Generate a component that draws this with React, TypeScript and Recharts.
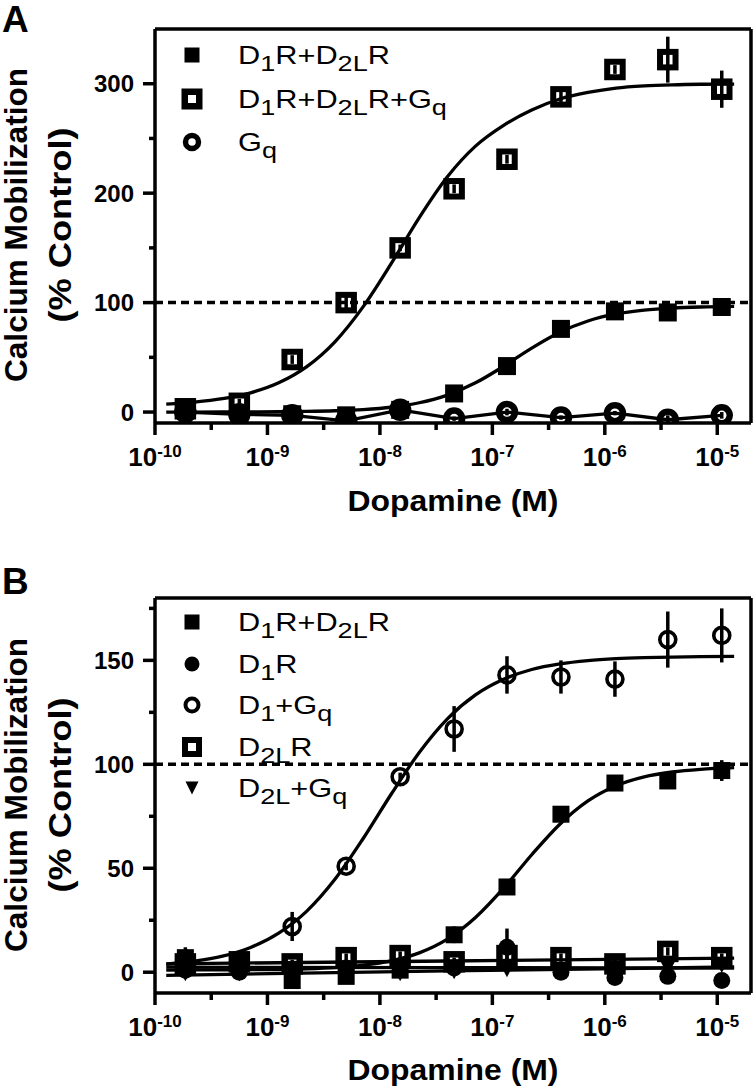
import React from "react";
import {
  ComposedChart,
  Scatter,
  Line,
  XAxis,
  YAxis,
  ReferenceLine,
  ErrorBar,
} from "recharts";

const FONT = "'Liberation Sans', Arial, Helvetica, sans-serif";

// log10 dopamine (M), 3-fold dilutions
const logDose = [-9.73, -9.25, -8.78, -8.3, -7.82, -7.34, -6.87, -6.39, -5.91, -5.44, -4.96];
// x positions used to trace the fitted curves
const fitDose = [-9.9, -9.65, -9.4, -9.15, -8.9, -8.65, -8.4, -8.15, -7.9, -7.65, -7.4, -7.15, -6.9, -6.65, -6.4, -6.15, -5.9, -5.65, -5.4, -5.15, -4.85];
const flatDose = [-9.9, -7.4, -4.85];

const xTicks = [-10, -9.5, -9, -8.5, -8, -7.5, -7, -6.5, -6, -5.5, -5];
const aYTicks = [0, 50, 100, 150, 200, 250, 300];
const bYTicks = [0, 25, 50, 75, 100, 125, 150, 175];

// panel A
const aD1D2 = [3, -1, -2, -3, 2, 17, 42, 76, 92, 91, 96];
const aD1D2Err = [2, 2, 2, 2, 2, 3, 3, 3, 3, 3, 3];
const aD1D2Gq = [3, 8, 48, 100, 150, 204, 231, 288, 313, 322, 295];
const aD1D2GqErr = [3, 4, 4, 6, 3, 4, 4, 7, 4, 21, 17];
const aGq = [0, -2, -3, -8, 2, -6, 0, -5, -1, -7, -3];
const aGqErr = [2, 2, 2, 2, 2, 2, 3, 2, 2, 4, 3];
const aFitD1D2Gq = [7.3, 9.1, 12.2, 17.6, 26.7, 41.5, 64.2, 96.1, 135.6, 177.7, 215, 243, 262, 276, 286, 292, 296, 298, 299, 299.5, 299.7];
const aFitD1D2 = [0, 0, 0.1, 0.2, 0.3, 0.6, 1.2, 2.3, 4.4, 8.5, 15.5, 26.7, 41.8, 58.4, 72.9, 83.2, 89.6, 93.1, 95, 96, 96.6];

// panel B
const bD1D2 = [7, 3, -4, -2, 1, 18, 41, 76, 91, 92, 97];
const bD1D2Err = [5, 2, 2, 2, 2, 4, 2, 2, 2, 2, 5];
const bD1 = [1, 0, 1, 2, 3, 2, 12, 0, -2.5, -2, -4];
const bD1Err = [2, 2, 2, 2, 2, 2, 9, 2, 2, 2, 2];
const bD1Gq = [2, 3, 22, 51, 94, 117, 143, 142, 141, 160, 162];
const bD1GqErr = [1, 1, 7, 2, 2, 11, 9, 8, 8.5, 13.5, 13];
const bD2 = [4, 5, 4, 7, 8, 5, 8, 7, 4, 10, 7];
const bD2Err = [2, 2, 2, 2, 2, 2, 2, 2, 2, 2, 2];
const bD2Gq = [-1, -1, 0, 0, -1, 0, 1, 1, 2, 2, 3];
const bD2GqErr = [2, 2, 1, 1, 1, 1, 1, 1, 1, 1, 1];
const bFitD1Gq = [3.9, 5.3, 7.7, 11.9, 18.8, 29.4, 44.7, 64.2, 85.6, 105.7, 121.9, 133.4, 140.9, 145.6, 148.3, 149.9, 150.8, 151.3, 151.6, 151.8, 151.9];
const bFitD1D2 = [1, 1.1, 1.1, 1.2, 1.3, 1.6, 2.2, 3.4, 5.5, 9.3, 15.9, 26.3, 40.4, 56.5, 71.2, 82.4, 89.7, 94, 96.3, 97.6, 98.4];
const bFitD2 = [4, 5.4, 6.8];
const bFitD1 = [2.4, 2.2, 2];
const bFitD2Gq = [-1.5, 0.6, 2.5];

// legend labels, "_x" = subscript
const aLabels = ["D,_1,R+D,_2L,R", "D,_1,R+D,_2L,R+G,_q", "G,_q"];
const bLabels = ["D,_1,R+D,_2L,R", "D,_1,R", "D,_1,+G,_q", "D,_2L,R", "D,_2L,+G,_q"];

const pts = (xs: number[], ys: number[], errs?: number[]) =>
  xs.map((x, i) => ({ x, y: ys[i], err: errs ? errs[i] : 0 }));

// marker shapes
const filledSquare = (s: number) => (p: any) =>
  <rect x={p.cx - s / 2} y={p.cy - s / 2} width={s} height={s} fill="#000" />;
const openSquare = (s: number, w: number) => (p: any) =>
  <rect x={p.cx - s / 2} y={p.cy - s / 2} width={s} height={s} fill="none" stroke="#000" strokeWidth={w} />;
const openCircle = (r: number, w: number) => (p: any) =>
  <circle cx={p.cx} cy={p.cy} r={r} fill="none" stroke="#000" strokeWidth={w} />;
const filledCircle = (r: number) => (p: any) =>
  <circle cx={p.cx} cy={p.cy} r={r} fill="#000" />;
const triangleDown = (w: number, h: number) => (p: any) => (
  <polygon
    points={`${p.cx - w / 2},${p.cy - h / 2} ${p.cx + w / 2},${p.cy - h / 2} ${p.cx},${p.cy + h / 2}`}
    fill="#000"
  />
);

const XTick = ({ x, y, payload }: any) => {
  const v = payload.value;
  const major = Number.isInteger(v);
  return (
    <g>
      <line x1={x} y1={y} x2={x} y2={y + (major ? 12 : 7)} stroke="#000" strokeWidth={3.5} />
      {major && (
        <text x={x} y={y + 43} textAnchor="middle" fontFamily={FONT} fontWeight="bold" fontSize={26} fill="#000">
          10
          <tspan fontSize={17} dy={-9}>{String(v)}</tspan>
        </text>
      )}
    </g>
  );
};

const makeYTick = (step: number) => ({ x, y, payload }: any) => {
  const v = payload.value;
  const major = v % step === 0;
  return (
    <g>
      <line x1={x - (major ? 12 : 6)} y1={y} x2={x} y2={y} stroke="#000" strokeWidth={3.5} />
      {major && (
        <text x={x - 21} y={y} dy="0.36em" textAnchor="end" fontFamily={FONT} fontWeight="bold" fontSize={24} fill="#000">
          {v}
        </text>
      )}
    </g>
  );
};

const axisLine = { stroke: "#000", strokeWidth: 3.5 };
const errProps = { dataKey: "err", width: 0, strokeWidth: 3.5, stroke: "#000", direction: "y" as const };

const fit = (data: any[]) => (
  <Line
    data={data}
    dataKey="y"
    type="monotone"
    dot={false}
    activeDot={false}
    stroke="#000"
    strokeWidth={3.3}
    isAnimationActive={false}
    legendType="none"
  />
);

const LegendRow = ({ y, marker, label }: any) => {
  const parts = label.split(",");
  let low = false;
  return (
    <g>
      {marker({ cx: 192, cy: y - 9 })}
      <g transform={`translate(238, ${y}) scale(1.23, 1)`}>
        <text x={0} y={0} fontFamily={FONT} fontSize={25} fill="#000">
          {parts.map((p: string, i: number) => {
            const sub = p.startsWith("_");
            const dy = sub && !low ? 7 : !sub && low ? -7 : 0;
            low = sub;
            return (
              <tspan key={i} dy={dy} fontSize={sub ? 22 : 25}>
                {sub ? p.slice(1) : p}
              </tspan>
            );
          })}
        </text>
      </g>
    </g>
  );
};

const PanelTexts = ({ top, plotMid, letter, letterY, titleY }: any) => (
  <g>
    <text x={2} y={letterY} fontSize={37} fontWeight="bold">{letter}</text>
    <text transform={`translate(27,${plotMid}) rotate(-90)`} textAnchor="middle" fontSize={31} fontWeight="bold" textLength={314} lengthAdjust="spacingAndGlyphs">
      Calcium Mobilization
    </text>
    <text transform={`translate(71,${plotMid}) rotate(-90)`} textAnchor="middle" fontSize={31} fontWeight="bold" textLength={195} lengthAdjust="spacingAndGlyphs">
      (% Control)
    </text>
    <text x={453} y={titleY} textAnchor="middle" fontSize={30} fontWeight="bold" textLength={211} lengthAdjust="spacingAndGlyphs">
      Dopamine (M)
    </text>
  </g>
);

export default function App() {
  return (
    <div style={{ position: "absolute", left: 0, top: 0, width: 756, height: 1090, background: "#fff" }}>
      <div style={{ position: "absolute", left: 0, top: 0 }}>
        <ComposedChart width={756} height={540} margin={{ top: 29, right: 5, bottom: 37, left: 0 }}>
          <XAxis
            type="number"
            dataKey="x"
            domain={[-10, -4.7]}
            ticks={xTicks}
            interval={0}
            tick={XTick}
            tickLine={false}
            tickSize={0}
            tickMargin={0}
            axisLine={axisLine}
            height={80}
            allowDataOverflow
          />
          <YAxis
            type="number"
            dataKey="y"
            domain={[-10, 350]}
            ticks={aYTicks}
            interval={0}
            tick={makeYTick(100)}
            tickLine={false}
            tickSize={0}
            tickMargin={0}
            axisLine={axisLine}
            width={155}
            allowDataOverflow
          />
          <ReferenceLine y={350} stroke="#000" strokeWidth={3.5} />
          <ReferenceLine x={-4.7} stroke="#000" strokeWidth={3.5} />
          <ReferenceLine y={100} stroke="#000" strokeWidth={3.5} strokeDasharray="8 5" />
          {fit(pts(fitDose, aFitD1D2Gq))}
          {fit(pts(fitDose, aFitD1D2))}
          <Line
            data={pts(logDose, aGq)}
            dataKey="y"
            type="linear"
            dot={false}
            activeDot={false}
            stroke="#000"
            strokeWidth={3.3}
            isAnimationActive={false}
            legendType="none"
          />
          <Scatter name="D1R+D2LR" data={pts(logDose, aD1D2, aD1D2Err)} dataKey="y" shape={filledSquare(18)} isAnimationActive={false}>
            <ErrorBar {...errProps} />
          </Scatter>
          <Scatter name="D1R+D2LR+Gq" data={pts(logDose, aD1D2Gq, aD1D2GqErr)} dataKey="y" shape={openSquare(15.5, 6)} isAnimationActive={false}>
            <ErrorBar {...errProps} />
          </Scatter>
          <Scatter name="Gq" data={pts(logDose, aGq, aGqErr)} dataKey="y" shape={openCircle(8, 6.5)} isAnimationActive={false}>
            <ErrorBar {...errProps} />
          </Scatter>
        </ComposedChart>
      </div>

      <div style={{ position: "absolute", left: 0, top: 540 }}>
        <ComposedChart width={756} height={550} margin={{ top: 58, right: 5, bottom: 17, left: 0 }}>
          <XAxis
            type="number"
            dataKey="x"
            domain={[-10, -4.7]}
            ticks={xTicks}
            interval={0}
            tick={XTick}
            tickLine={false}
            tickSize={0}
            tickMargin={0}
            axisLine={axisLine}
            height={80}
            allowDataOverflow
          />
          <YAxis
            type="number"
            dataKey="y"
            domain={[-10, 180]}
            ticks={bYTicks}
            interval={0}
            tick={makeYTick(50)}
            tickLine={false}
            tickSize={0}
            tickMargin={0}
            axisLine={axisLine}
            width={155}
            allowDataOverflow
          />
          <ReferenceLine y={180} stroke="#000" strokeWidth={3.5} />
          <ReferenceLine x={-4.7} stroke="#000" strokeWidth={3.5} />
          <ReferenceLine y={100} stroke="#000" strokeWidth={3.5} strokeDasharray="8 5" />
          {fit(pts(fitDose, bFitD1Gq))}
          {fit(pts(fitDose, bFitD1D2))}
          {fit(pts(flatDose, bFitD2))}
          {fit(pts(flatDose, bFitD1))}
          {fit(pts(flatDose, bFitD2Gq))}
          <Scatter name="D1R+D2LR" data={pts(logDose, bD1D2, bD1D2Err)} dataKey="y" shape={filledSquare(17)} isAnimationActive={false}>
            <ErrorBar {...errProps} />
          </Scatter>
          <Scatter name="D1R" data={pts(logDose, bD1, bD1Err)} dataKey="y" shape={filledCircle(8.5)} isAnimationActive={false}>
            <ErrorBar {...errProps} />
          </Scatter>
          <Scatter name="D1+Gq" data={pts(logDose, bD1Gq, bD1GqErr)} dataKey="y" shape={openCircle(8, 3.6)} isAnimationActive={false}>
            <ErrorBar {...errProps} />
          </Scatter>
          <Scatter name="D2LR" data={pts(logDose, bD2, bD2Err)} dataKey="y" shape={openSquare(15, 6.5)} isAnimationActive={false}>
            <ErrorBar {...errProps} />
          </Scatter>
          <Scatter name="D2L+Gq" data={pts(logDose, bD2Gq, bD2GqErr)} dataKey="y" shape={triangleDown(15, 14)} isAnimationActive={false}>
            <ErrorBar {...errProps} />
          </Scatter>
        </ComposedChart>
      </div>

      <svg
        width={756}
        height={1090}
        style={{ position: "absolute", left: 0, top: 0, pointerEvents: "none" }}
        fontFamily={FONT}
      >
        <PanelTexts letter="A" letterY={32} plotMid={225} titleY={511} />
        <LegendRow y={64} marker={filledSquare(15)} label={aLabels[0]} />
        <LegendRow y={108} marker={openSquare(14.5, 6.5)} label={aLabels[1]} />
        <LegendRow y={151} marker={openCircle(6.5, 5.5)} label={aLabels[2]} />

        <PanelTexts letter="B" letterY={594} plotMid={795} titleY={1080} />
        <LegendRow y={631} marker={filledSquare(15)} label={bLabels[0]} />
        <LegendRow y={673} marker={filledCircle(7.5)} label={bLabels[1]} />
        <LegendRow y={714} marker={openCircle(6.5, 4)} label={bLabels[2]} />
        <LegendRow y={756} marker={openSquare(14, 6)} label={bLabels[3]} />
        <LegendRow y={797} marker={triangleDown(13, 13)} label={bLabels[4]} />
      </svg>
    </div>
  );
}
